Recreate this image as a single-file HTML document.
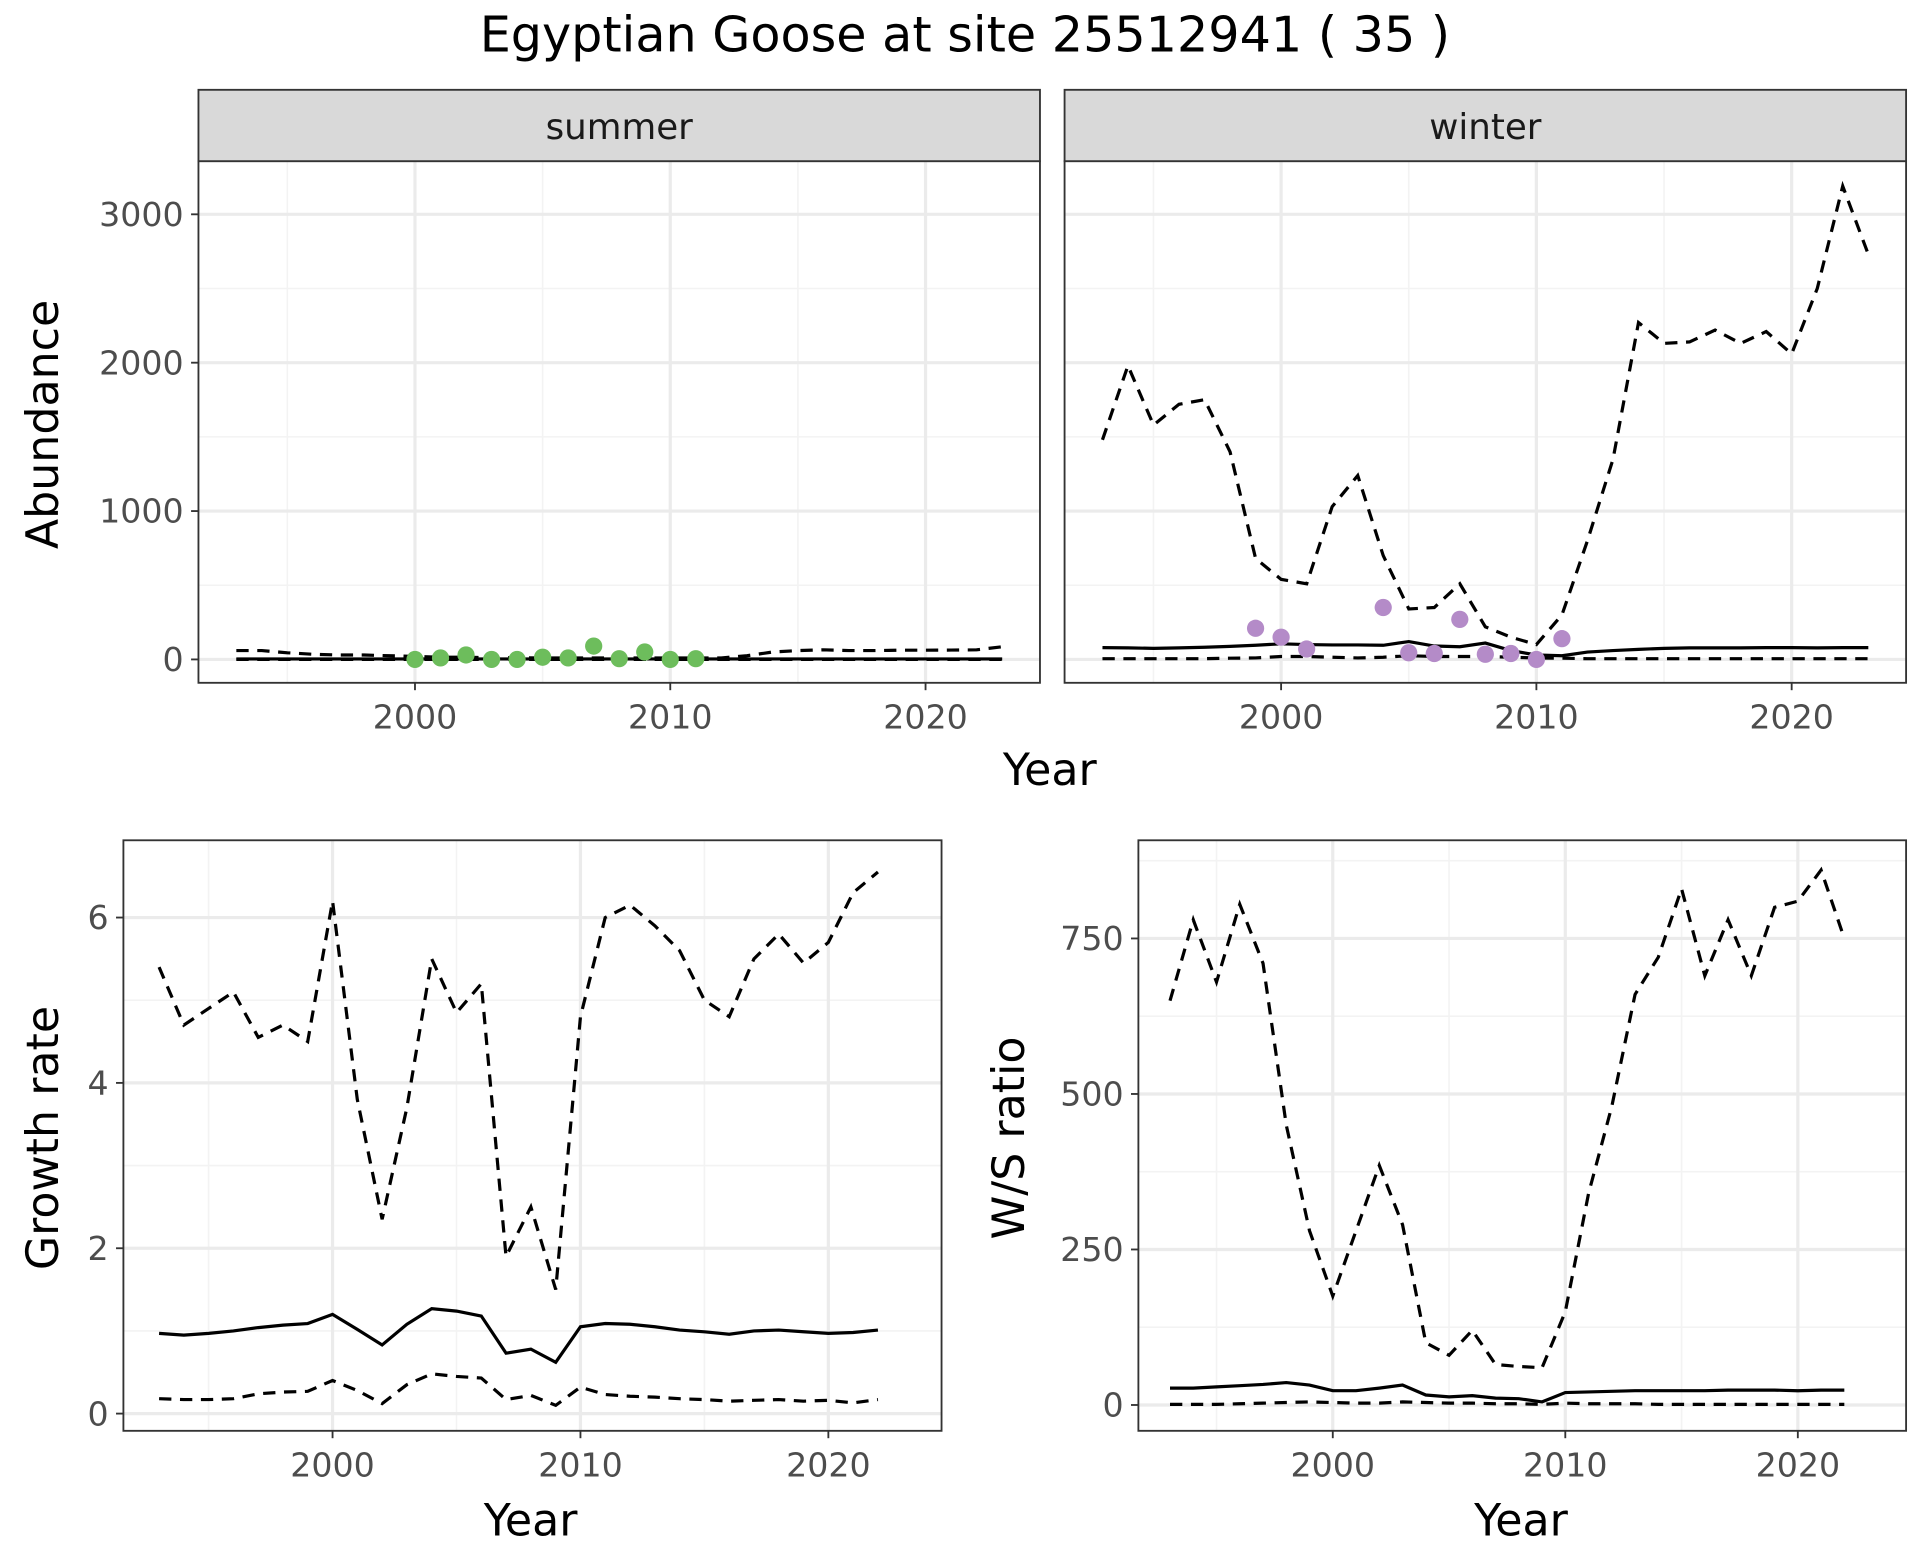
<!DOCTYPE html>
<html><head><meta charset="utf-8"><style>html,body{margin:0;padding:0;background:#fff}svg{display:block}</style></head>
<body>
<svg id="s" xmlns="http://www.w3.org/2000/svg" width="1920" height="1560" viewBox="0 0 1560 1268" font-family="'DejaVu Sans','Liberation Sans',sans-serif"></svg>
<script>
const S=document.getElementById('s');let h='';
h+='<rect width="1560" height="1268" fill="#fff"/>';
h+='<text x="784" y="42" font-size="40" text-anchor="middle">Egyptian Goose at site 25512941 ( 35 )</text>';
const yrs=[];for(let y=1993;y<=2023;y++)yrs.push(y);
function line(pts,dash){return '<polyline fill="none" stroke="#000" stroke-width="2.6" '+(dash?'stroke-dasharray="10,7" ':'')+'points="'+pts.map(p=>p[0].toFixed(1)+','+p[1].toFixed(1)).join(' ')+'"/>';}
function panel(o){
 const {x0,x1,y0,y1,xf,yf,yt,ytl,ymin,ylabels}=o;
 let s='<rect x="'+x0+'" y="'+y0+'" width="'+(x1-x0)+'" height="'+(y1-y0)+'" fill="#fff"/>';
 [1995,2005,2015].forEach(v=>{const X=xf(v);s+='<line x1="'+X+'" x2="'+X+'" y1="'+y0+'" y2="'+y1+'" stroke="#f3f3f3" stroke-width="1.3"/>';});
 ymin.forEach(v=>{const Y=yf(v);s+='<line x1="'+x0+'" x2="'+x1+'" y1="'+Y+'" y2="'+Y+'" stroke="#f3f3f3" stroke-width="1.3"/>';});
 [2000,2010,2020].forEach(v=>{const X=xf(v);s+='<line x1="'+X+'" x2="'+X+'" y1="'+y0+'" y2="'+y1+'" stroke="#ebebeb" stroke-width="2.6"/>';
  s+='<line x1="'+X+'" x2="'+X+'" y1="'+y1+'" y2="'+(y1+6)+'" stroke="#333" stroke-width="1.5"/>';
  s+='<text x="'+X+'" y="'+(y1+37)+'" font-size="27" fill="#4d4d4d" text-anchor="middle">'+v+'</text>';});
 yt.forEach((v,i)=>{const Y=yf(v);s+='<line x1="'+x0+'" x2="'+x1+'" y1="'+Y+'" y2="'+Y+'" stroke="#ebebeb" stroke-width="2.6"/>';
  if(ylabels){s+='<line x1="'+(x0-6)+'" x2="'+x0+'" y1="'+Y+'" y2="'+Y+'" stroke="#333" stroke-width="1.5"/>';
  s+='<text x="'+(x0-12)+'" y="'+(Y+9.5)+'" font-size="27" fill="#4d4d4d" text-anchor="end">'+ytl[i]+'</text>';}});
 return s;}
function border(x0,x1,y0,y1){return '<rect x="'+x0+'" y="'+y0+'" width="'+(x1-x0)+'" height="'+(y1-y0)+'" fill="none" stroke="#333" stroke-width="1.5"/>';}
const ay=v=>536-v*0.1206;
function topPanel(x0,x2000,lab,name,up,mid,lo,pts,col){
 const x1=x0+684,xf=v=>x2000+(v-2000)*20.75;
 let s=panel({x0,x1,y0:131,y1:555,xf,yf:ay,yt:[0,1000,2000,3000],ytl:['0','1000','2000','3000'],ymin:[500,1500,2500],ylabels:lab});
 s+=line(yrs.map((y,i)=>[xf(y),ay(lo[i])]),true);
 s+=line(yrs.map((y,i)=>[xf(y),ay(up[i])]),true);
 s+=line(yrs.map((y,i)=>[xf(y),ay(mid[i])]),false);
 pts.forEach(p=>{s+='<circle cx="'+xf(p[0])+'" cy="'+ay(p[1])+'" r="7" fill="'+col+'"/>';});
 s+=border(x0,x1,131,555);
 s+='<rect x="'+x0+'" y="73" width="684" height="58" fill="#d9d9d9" stroke="#333" stroke-width="1.5"/>';
 s+='<text x="'+(x0+342)+'" y="113" font-size="29" fill="#1a1a1a" text-anchor="middle">'+name+'</text>';
 return s;}
const sUp=[60,60,45,35,30,30,25,20,15,15,12,12,10,10,10,10,10,10,10,10,25,50,60,65,60,60,62,62,63,65,85];
const sMid=yrs.map(()=>3);const sLo=yrs.map(()=>0);
h+=topPanel(161,337,true,'summer',sUp,sMid,sLo,[[2000,0],[2001,10],[2002,30],[2003,0],[2004,0],[2005,15],[2006,10],[2007,90],[2008,5],[2009,50],[2010,0],[2011,5]],'#6dbd5c');
const wUp=[1480,1980,1580,1720,1750,1400,680,540,510,1030,1240,700,340,350,510,220,150,100,300,800,1350,2270,2130,2140,2220,2130,2210,2060,2500,3190,2730];
const wMid=[80,78,75,78,82,88,95,105,100,98,98,95,120,90,85,110,60,30,25,50,60,68,75,78,78,78,80,80,78,80,80];
const wLo=[5,5,5,5,5,8,10,20,20,15,10,15,25,20,20,20,15,10,8,5,5,5,5,5,5,5,5,5,5,5,5];
h+=topPanel(865,1041,false,'winter',wUp,wMid,wLo,[[1999,210],[2000,150],[2001,70],[2004,350],[2005,45],[2006,40],[2007,270],[2008,35],[2009,40],[2010,0],[2011,140]],'#b48bc8');
h+='<text x="853" y="638" font-size="36" text-anchor="middle">Year</text>';
h+='<text transform="translate(47,345) rotate(-90)" font-size="36" text-anchor="middle">Abundance</text>';
const y2=yrs.slice(0,30);
{const xf=v=>270+(v-2000)*20.15,yf=v=>1149-v*67.2;
 h+=panel({x0:100,x1:765,y0:683,y1:1163,xf,yf,yt:[0,2,4,6],ytl:['0','2','4','6'],ymin:[1,3,5],ylabels:true});
 const up=[5.4,4.7,4.9,5.1,4.55,4.7,4.5,6.2,3.8,2.35,3.7,5.5,4.85,5.2,1.9,2.5,1.5,4.8,6.0,6.15,5.9,5.6,5.0,4.8,5.5,5.8,5.45,5.7,6.3,6.55];
 const md=[.97,.95,.97,1.0,1.04,1.07,1.09,1.2,1.02,.83,1.08,1.27,1.24,1.18,.73,.78,.62,1.05,1.09,1.08,1.05,1.01,.99,.96,1.0,1.01,.99,.97,.98,1.01];
 const lo=[.18,.17,.17,.18,.24,.26,.27,.4,.28,.12,.35,.48,.45,.43,.17,.22,.1,.32,.23,.21,.2,.18,.17,.15,.16,.17,.15,.16,.13,.17];
 h+=line(y2.map((y,i)=>[xf(y),yf(up[i])]),true)+line(y2.map((y,i)=>[xf(y),yf(lo[i])]),true)+line(y2.map((y,i)=>[xf(y),yf(md[i])]),false);
 h+=border(100,765,683,1163);
 h+='<text x="431" y="1248" font-size="36" text-anchor="middle">Year</text>';
 h+='<text transform="translate(47,925) rotate(-90)" font-size="36" text-anchor="middle">Growth rate</text>';}
{const xf=v=>1083+(v-2000)*18.9,yf=v=>1142-v*0.5056;
 h+=panel({x0:925,x1:1549,y0:683,y1:1163,xf,yf,yt:[0,250,500,750],ytl:['0','250','500','750'],ymin:[125,375,625,875],ylabels:true});
 const up=[650,780,680,805,710,450,280,175,280,385,290,100,80,120,65,62,60,150,340,480,660,720,830,690,780,690,800,810,860,750];
 const md=[27,27,29,31,33,36,32,23,23,27,32,16,13,15,11,10,5,20,21,22,23,23,23,23,24,24,24,23,24,24];
 const lo=[1,1,1,2,3,4,5,4,3,3,5,4,3,3,2,2,1,3,2,2,2,1,1,1,1,1,1,1,1,1];
 h+=line(y2.map((y,i)=>[xf(y),yf(up[i])]),true)+line(y2.map((y,i)=>[xf(y),yf(lo[i])]),true)+line(y2.map((y,i)=>[xf(y),yf(md[i])]),false);
 h+=border(925,1549,683,1163);
 h+='<text x="1236" y="1248" font-size="36" text-anchor="middle">Year</text>';
 h+='<text transform="translate(832,925) rotate(-90)" font-size="36" text-anchor="middle">W/S ratio</text>';}
S.innerHTML=h;
</script>
</body></html>
